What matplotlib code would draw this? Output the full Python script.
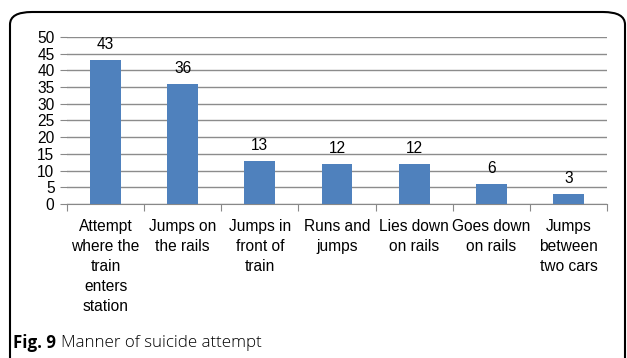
import matplotlib.pyplot as plt
from matplotlib.patches import FancyBboxPatch

# manner of attempt -> number of cases
categories = ['Attempt\nwhere the\ntrain\nenters\nstation', 'Jumps on\nthe rails',
              'Jumps in\nfront of\ntrain', 'Runs and\njumps', 'Lies down\non rails',
              'Goes down\non rails', 'Jumps\nbetween\ntwo cars']
counts = [43, 36, 13, 12, 12, 6, 3]
yticks = [0, 5, 10, 15, 20, 25, 30, 35, 40, 45, 50]

plt.rcParams['font.family'] = ['Liberation Sans', 'DejaVu Sans']

fig = plt.figure(figsize=(6.27, 3.58), dpi=100)
ax = fig.add_axes([67/627, 1 - 204/358, 540/627, 167/358])

x = range(len(counts))
bars = ax.bar(x, counts, width=0.4, color='#4F81BD', zorder=3)
for b, v in zip(bars, counts):
    ax.text(b.get_x() + b.get_width() / 2, v + 2.4, str(v),
            ha='center', va='bottom', fontsize=11.2, color='black')

ax.set_xlim(-0.5, len(counts) - 0.5)
ax.set_ylim(0, 50)
ax.set_yticks(yticks)
ax.tick_params(axis='y', labelsize=11.2, length=5, color='#888888', pad=4)
ax.yaxis.grid(True, color='#8c8c8c', linewidth=1, zorder=0)

# category boundary ticks under the x axis
ax.set_xticks([i - 0.5 for i in range(len(counts) + 1)])
ax.set_xticklabels([])
ax.set_xticks(list(x), minor=True)
ax.set_xticklabels(categories, minor=True, fontsize=11.2, linespacing=1.42)
ax.tick_params(axis='x', which='major', length=5, color='#888888')
ax.tick_params(axis='x', which='minor', length=0, pad=11)

for s in ['top', 'right', 'left']:
    ax.spines[s].set_visible(False)
ax.spines['bottom'].set_color('#888888')

# rounded frame around the figure panel (bottom edge runs off the page)
frame = FancyBboxPatch((10/627, -0.1), 615/627, 1.1 - 12/358,
                       boxstyle='round,pad=0,rounding_size=0.035', transform=fig.transFigure,
                       facecolor='none', edgecolor='black', linewidth=1.5, clip_on=False)
fig.patches.append(frame)

cap_y = 1 - 343/358
fig_lbl = fig.text(13/627, cap_y, 'Fig. 9', fontsize=12.2, va='center', ha='left',
                   family=['Open Sans', 'DejaVu Sans'], fontweight='bold')
renderer = fig.canvas.get_renderer()
bb = fig_lbl.get_window_extent(renderer)
fig.text(bb.x1 / fig.bbox.width + 5/627, cap_y, 'Manner of suicide attempt', fontsize=12.2,
         va='center', ha='left', family=['Open Sans', 'DejaVu Sans'], fontweight='light')

fig.savefig('out.png', dpi=100)
